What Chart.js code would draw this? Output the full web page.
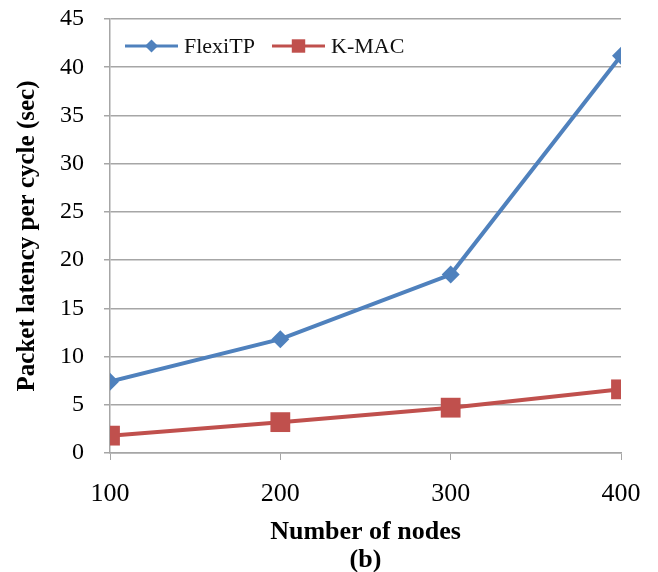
<!DOCTYPE html>
<html>
<head>
<meta charset="utf-8">
<script src="https://cdn.jsdelivr.net/npm/chart.js@4/dist/chart.umd.min.js"></script>
<style>
  html, body { margin: 0; padding: 0; background: #fff; }
  #wrap { width: 658px; height: 572px; }
</style>
</head>
<body>
<div id="wrap"><canvas id="chart" width="658" height="572"></canvas></div>
<script>
// Data
const nodes = [100, 200, 300, 400];
const flexiTP = [7.4, 11.8, 18.5, 41.2];
const kMac = [1.8, 3.2, 4.7, 6.6];
const seriesNames = ['FlexiTP', 'K-MAC'];

const blue = '#4F81BD';
const red = '#C0504D';
const serif = '"Liberation Serif", "Times New Roman", serif';

// Legend drawn inside the plot, Excel style (line with marker in the middle)
const insideLegend = {
    id: 'insideLegend',
    afterDraw(chart) {
        const ctx = chart.ctx;
        const y = 46;
        let x = 125;
        chart.data.datasets.forEach(function(ds) {
            ctx.save();
            ctx.strokeStyle = ds.borderColor;
            ctx.lineWidth = 3;
            ctx.beginPath();
            ctx.moveTo(x, y);
            ctx.lineTo(x + 53, y);
            ctx.stroke();
            ctx.fillStyle = ds.backgroundColor;
            const r = ds.pointStyle === 'rect' ? 9.5 : 6.5;
            Chart.helpers.drawPoint(ctx, { pointStyle: ds.pointStyle, radius: r, borderWidth: 0 }, x + 26.5, y);
            ctx.fillStyle = '#111';
            ctx.font = '22px ' + serif;
            ctx.textBaseline = 'middle';
            ctx.fillText(ds.label, x + 59, y + 1);
            ctx.restore();
            x = 272;
        });
    }
};

new Chart(document.getElementById('chart'), {
    type: 'line',
    data: {
        datasets: [{
            label: seriesNames[0],
            data: nodes.map((n, i) => ({ x: n, y: flexiTP[i] })),
            borderColor: blue,
            backgroundColor: blue,
            borderWidth: 4,
            pointStyle: 'rectRot',
            pointRadius: 9,
            pointHoverRadius: 9,
            pointBorderWidth: 0,
            tension: 0
        }, {
            label: seriesNames[1],
            data: nodes.map((n, i) => ({ x: n, y: kMac[i] })),
            borderColor: red,
            backgroundColor: red,
            borderWidth: 4,
            pointStyle: 'rect',
            pointRadius: 14,
            pointHoverRadius: 14,
            pointBorderWidth: 0,
            tension: 0
        }]
    },
    options: {
        responsive: false,
        animation: false,
        layout: { padding: { top: 19, right: 37, left: 8, bottom: 0 } },
        plugins: {
            legend: { display: false },
            tooltip: { enabled: false }
        },
        scales: {
            x: {
                type: 'linear',
                min: 100,
                max: 400,
                afterFit(scale) {
                    scale.height = 572 - 453;
                    scale.paddingLeft = 0;
                    scale.paddingRight = 0;
                },
                ticks: {
                    stepSize: 100,
                    color: '#000',
                    font: { family: serif, size: 26 },
                    padding: 19
                },
                grid: {
                    drawOnChartArea: false,
                    color: '#a6a6a6',
                    tickLength: 7
                },
                border: { color: '#a6a6a6', width: 1.5 },
                title: {
                    display: true,
                    text: ['Number of nodes', '(b)'],
                    color: '#000',
                    font: { family: serif, size: 26, weight: 'bold', lineHeight: 1.1 },
                    padding: { top: 0, bottom: -3 }
                }
            },
            y: {
                min: 0,
                max: 45,
                afterFit(scale) {
                    scale.width = 110 - 8;
                    scale.paddingTop = 0;
                    scale.paddingBottom = 0;
                },
                ticks: {
                    stepSize: 5,
                    color: '#000',
                    font: { family: serif, size: 24 },
                    padding: 20
                },
                grid: {
                    color: '#a6a6a6',
                    lineWidth: 1.5,
                    tickLength: 6
                },
                border: { color: '#a6a6a6', width: 1.5 },
                title: {
                    display: true,
                    text: 'Packet latency per cycle (sec)',
                    color: '#000',
                    font: { family: serif, size: 25, weight: 'bold' },
                    padding: { top: 5 }
                }
            }
        }
    },
    plugins: [insideLegend]
});
</script>
</body>
</html>
